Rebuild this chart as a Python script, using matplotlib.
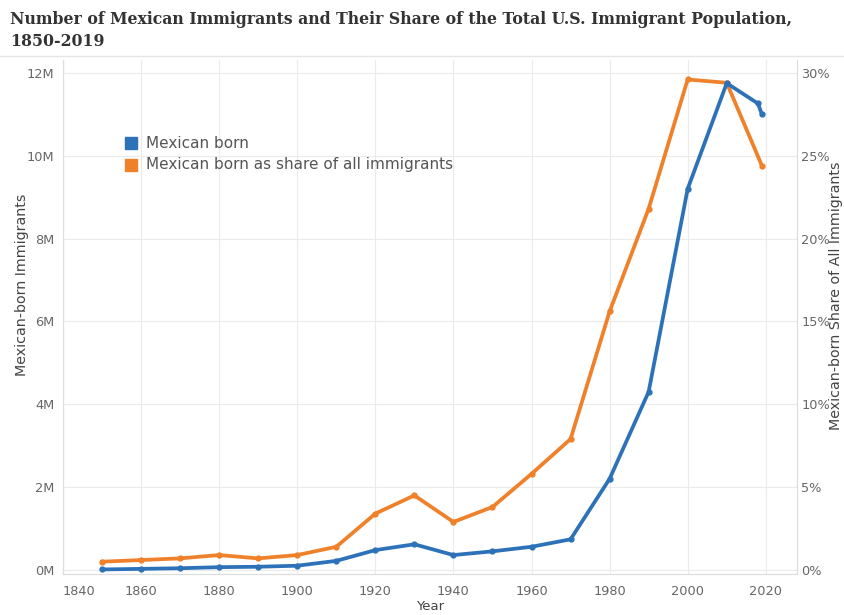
import matplotlib

matplotlib.use("Agg")

import matplotlib.pyplot as plt
from matplotlib.patches import Rectangle
from matplotlib.lines import Line2D

# Mexican-born immigrants in the U.S. (millions)
years_count = [1850, 1860, 1870, 1880, 1890, 1900, 1910, 1920, 1930, 1940,
               1950, 1960, 1970, 1980, 1990, 2000, 2010, 2018, 2019]
mexican_born = [0.013, 0.027, 0.042, 0.068, 0.078, 0.103, 0.22, 0.48, 0.62, 0.36,
                0.45, 0.56, 0.74, 2.2, 4.3, 9.2, 11.75, 11.26, 11.0]

# Mexican-born as a share of all immigrants (%)
years_share = [1850, 1860, 1870, 1880, 1890, 1900, 1910, 1920, 1930, 1940,
               1950, 1960, 1970, 1980, 1990, 2000, 2010, 2019]
share_pct = [0.5, 0.6, 0.7, 0.9, 0.7, 0.9, 1.4, 3.4, 4.5, 2.9,
             3.8, 5.8, 7.9, 15.6, 21.8, 29.6, 29.4, 24.4]

left_ticks = [0, 2, 4, 6, 8, 10, 12]
right_ticks = [0, 5, 10, 15, 20, 25, 30]
x_ticks = [1840, 1860, 1880, 1900, 1920, 1940, 1960, 1980, 2000, 2020]

BLUE = "#2d72b8"
ORANGE = "#f0812b"
GRID = "#ebebeb"
TICK_COLOR = "#666666"
SANS = "DejaVu Sans"

fig = plt.figure(figsize=(8.45, 6.15), dpi=100)
ax = fig.add_axes([63 / 845, 41 / 615, 734 / 845, 514 / 615])
ax2 = ax.twinx()

# grid on the base axes, both lines on the twin so blue sits over orange
ax.grid(True, color=GRID, linewidth=0.8)
ax.set_axisbelow(True)

ax2.plot(years_share, share_pct, color=ORANGE, linewidth=2.7, marker="o",
         markersize=3.5, solid_joinstyle="round", zorder=3)
ax2.plot(years_count, mexican_born, color=BLUE, linewidth=2.7, marker="o",
         markersize=3.5, solid_joinstyle="round", zorder=4, transform=ax.transData)

ax.set_xlim(1840, 2028)
ax.set_ylim(-0.097, 12.31)
ax2.set_ylim(-0.097 * 2.5, 12.31 * 2.5)

ax.set_yticks(left_ticks)
ax.set_yticklabels([f"{v}M" for v in left_ticks])
ax2.set_yticks(right_ticks)
ax2.set_yticklabels([f"{v}%" for v in right_ticks])
ax.set_xticks(x_ticks)
ax.set_xticklabels([str(v) for v in x_ticks])
ax.get_xticklabels()[0].set_horizontalalignment("left")

for a in (ax, ax2):
    a.tick_params(length=0, labelsize=9.3, colors=TICK_COLOR, labelfontfamily=SANS)
    for spine in a.spines.values():
        spine.set_color("#dddddd")
        spine.set_linewidth(0.8)
    a.spines["top"].set_visible(False)
ax.tick_params(axis="y", pad=6)
ax2.tick_params(axis="y", pad=3)
ax.tick_params(axis="x", pad=8)

# axis titles placed as figure text (pixel positions)
fig.text(22 / 845, 1 - 285 / 615, "Mexican-born Immigrants", fontsize=10.3,
         color="#444444", family=SANS, rotation=90, ha="center", va="center")
fig.text(836 / 845, 1 - 296 / 615, "Mexican-born Share of All Immigrants", fontsize=10.3,
         color="#444444", family=SANS, rotation=90, ha="center", va="center")
ax.set_xlabel("Year", fontsize=9.5, color="#444444", family=SANS, labelpad=1)

# legend drawn as plain squares and labels
for i, (label, color) in enumerate([("Mexican born", BLUE),
                                    ("Mexican born as share of all immigrants", ORANGE)]):
    y = 143 + i * 22
    fig.patches.append(Rectangle((125 / 845, 1 - (y + 6) / 615), 12 / 845, 12 / 615,
                                 transform=fig.transFigure, color=color))
    fig.text(146 / 845, 1 - y / 615, label, fontsize=11, color="#555555",
             family=SANS, va="center", ha="left")

fig.text(10 / 845, 1 - 20 / 615,
         "Number of Mexican Immigrants and Their Share of the Total U.S. Immigrant Population,",
         fontsize=11.3, fontweight="bold", family="DejaVu Serif", color="#333333",
         va="center", ha="left")
fig.text(10 / 845, 1 - 42 / 615, "1850-2019", fontsize=11.3, fontweight="bold",
         family="DejaVu Serif", color="#333333", va="center", ha="left")
fig.lines.append(Line2D([0, 1], [1 - 56 / 615, 1 - 56 / 615], transform=fig.transFigure,
                        color="#e6e6e6", linewidth=1))

fig.savefig("out.png", dpi=100)
